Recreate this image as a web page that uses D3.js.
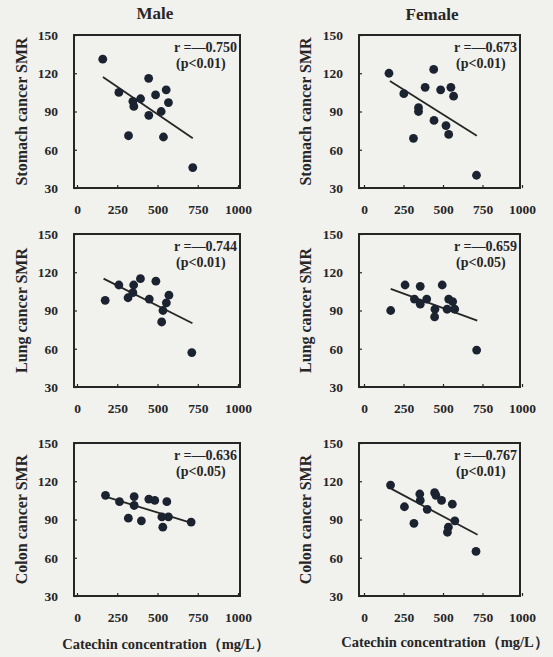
<!DOCTYPE html>
<html>
<head>
<meta charset="utf-8">
<script src="https://cdn.jsdelivr.net/npm/d3@7"></script>
<style>
  html, body { margin: 0; padding: 0; background: #f1f1ee; }
  svg { display: block; }
  svg text { font-family: 'Liberation Serif', 'Times New Roman', serif; font-weight: bold; }
</style>
</head>
<body>
<div id="container"></div>
<script>
const width = 553, height = 657;

// Values: [catechin mg/L, SMR]
const stomachMale = [[160,131],[260,105],[445,116],[347,98],[353,94],[395,100],[488,103],[554,107],[568,97],[446,87],[523,90],[320,71],[537,70],[719,46]];
const stomachFemale = [[158,120],[252,104],[441,123],[387,109],[345,93],[345,90],[485,107],[550,109],[567,102],[443,83],[519,79],[536,72],[313,69],[712,40]];
const lungMale = [[175,98],[260,110],[352,110],[394,115],[490,113],[317,100],[347,104],[449,99],[571,102],[555,96],[534,90],[526,81],[713,57]];
const lungFemale = [[169,90],[260,110],[356,109],[495,110],[319,99],[356,95],[397,99],[449,91],[447,85],[536,99],[561,97],[526,91],[574,91],[713,59]];
const colonMale = [[177,109],[264,104],[355,108],[355,101],[446,106],[483,105],[558,104],[319,91],[400,89],[527,92],[568,92],[533,84],[709,88]];
const colonFemale = [[168,117],[256,100],[353,110],[356,105],[400,98],[316,87],[447,111],[455,109],[491,105],[559,102],[575,89],[534,84],[528,80],[709,65]];

// regression line end points
const stomachMaleFit = [[161,117],[719,69]];
const stomachFemaleFit = [[164,114],[714,71]];
const lungMaleFit = [[165,115],[717,80]];
const lungFemaleFit = [[169,107],[717,82]];
const colonMaleFit = [[177,108],[720,87]];
const colonFemaleFit = [[174,114],[719,78]];

const rLabels = ["r =\u20140.750", "r =\u20140.673", "r =\u20140.744", "r =\u20140.659", "r =\u20140.636", "r =\u20140.767"];
const pLabels = ["(p<0.01)", "(p<0.01)", "(p<0.01)", "(p<0.05)", "(p<0.05)", "(p<0.01)"];

const sexes = ["Male", "Female"];
const yTitles = ["Stomach cancer SMR", "Lung cancer SMR", "Colon cancer SMR"];
const xTitle = "Catechin concentration\uFF08mg/L\uFF09";
const xTicks = [0, 250, 500, 750, 1000];
const yTicks = [30, 60, 90, 120, 150];

const panelData = [stomachMale, stomachFemale, lungMale, lungFemale, colonMale, colonFemale];
const panelFits = [stomachMaleFit, stomachFemaleFit, lungMaleFit, lungFemaleFit, colonMaleFit, colonFemaleFit];

// layout (pixels)
const cols = [
    {left: 74, right: 240, x0: 77, x1: 238, titleX: 155, yTitleX: 21, xTitleX: 166},
    {left: 359, right: 520, x0: 364, x1: 522, titleX: 432, yTitleX: 305, xTitleX: 445}
];
const rows = [
    {top: 35, bottom: 188},
    {top: 234, bottom: 387},
    {top: 443, bottom: 596}
];
const ink = "#262626", dotColor = "#1b2230";

const svg = d3.select("#container").append("svg")
    .attr("width", width)
    .attr("height", height)
    .attr("fill", ink);

// column titles
svg.selectAll("text.sex")
    .data(sexes)
    .enter()
    .append("text")
    .attr("class", "sex")
    .attr("x", (d, i) => cols[i].titleX)
    .attr("y", (d, i) => 19 + i)
    .attr("text-anchor", "middle")
    .attr("font-size", 17)
    .text(d => d);

for (let r = 0; r < rows.length; ++r) {
    for (let c = 0; c < cols.length; ++c) {
        const k = r * 2 + c;
        const col = cols[c], row = rows[r];

        const x = d3.scaleLinear().domain([0, 1000]).range([col.x0, col.x1]);
        const y = d3.scaleLinear().domain([30, 150]).range([row.bottom, row.top]);

        const g = svg.append("g");

        // axes: inward ticks, labels outside
        g.append("g")
            .attr("transform", `translate(0,${row.bottom})`)
            .call(d3.axisBottom(x).tickValues(xTicks).tickFormat(d3.format("d")).tickSize(-3).tickPadding(16))
            .call(a => a.select(".domain").remove())
            .call(a => a.selectAll("line").attr("stroke", ink).attr("stroke-width", 1.2))
            .call(a => a.selectAll("text").attr("fill", ink).style("font-size", "13.5px"));

        g.append("g")
            .attr("transform", `translate(${col.left},0)`)
            .call(d3.axisLeft(y).tickValues(yTicks).tickSize(-3).tickPadding(16))
            .call(a => a.select(".domain").remove())
            .call(a => a.selectAll("line").attr("stroke", ink).attr("stroke-width", 1.2))
            .call(a => a.selectAll("text").attr("fill", ink).style("font-size", "13.5px"));

        // frame
        g.append("rect")
            .attr("x", col.left)
            .attr("y", row.top)
            .attr("width", col.right - col.left)
            .attr("height", row.bottom - row.top)
            .attr("fill", "none")
            .attr("stroke", ink)
            .attr("stroke-width", 2);

        // regression line
        g.append("path")
            .datum(panelFits[k])
            .attr("fill", "none")
            .attr("stroke", ink)
            .attr("stroke-width", 1.8)
            .attr("d", d3.line().x(d => x(d[0])).y(d => y(d[1])));

        // points
        g.selectAll("circle")
            .data(panelData[k])
            .enter()
            .append("circle")
            .attr("cx", d => x(d[0]))
            .attr("cy", d => y(d[1]))
            .attr("r", 4.4)
            .attr("fill", dotColor);

        // r and p
        const rText = g.append("text")
            .attr("x", col.right - 3)
            .attr("y", row.top + 17)
            .attr("text-anchor", "end")
            .attr("font-size", 14)
            .text(rLabels[k]);
        const rStart = rText.node().getBBox().x;
        g.append("text")
            .attr("x", rStart + 2)
            .attr("y", row.top + 33)
            .attr("font-size", 14)
            .text(pLabels[k]);

        // y title
        g.append("text")
            .attr("transform", `translate(${col.yTitleX},${(row.top + row.bottom) / 2}) rotate(-90)`)
            .attr("text-anchor", "middle")
            .attr("dy", "0.35em")
            .attr("font-size", 16)
            .text(yTitles[r]);

        if (r === rows.length - 1) {
            g.append("text")
                .attr("x", col.xTitleX)
                .attr("y", 649 - c * 2)
                .attr("text-anchor", "middle")
                .attr("font-size", 14.5)
                .text(xTitle);
        }
    }
}
</script>
</body>
</html>
